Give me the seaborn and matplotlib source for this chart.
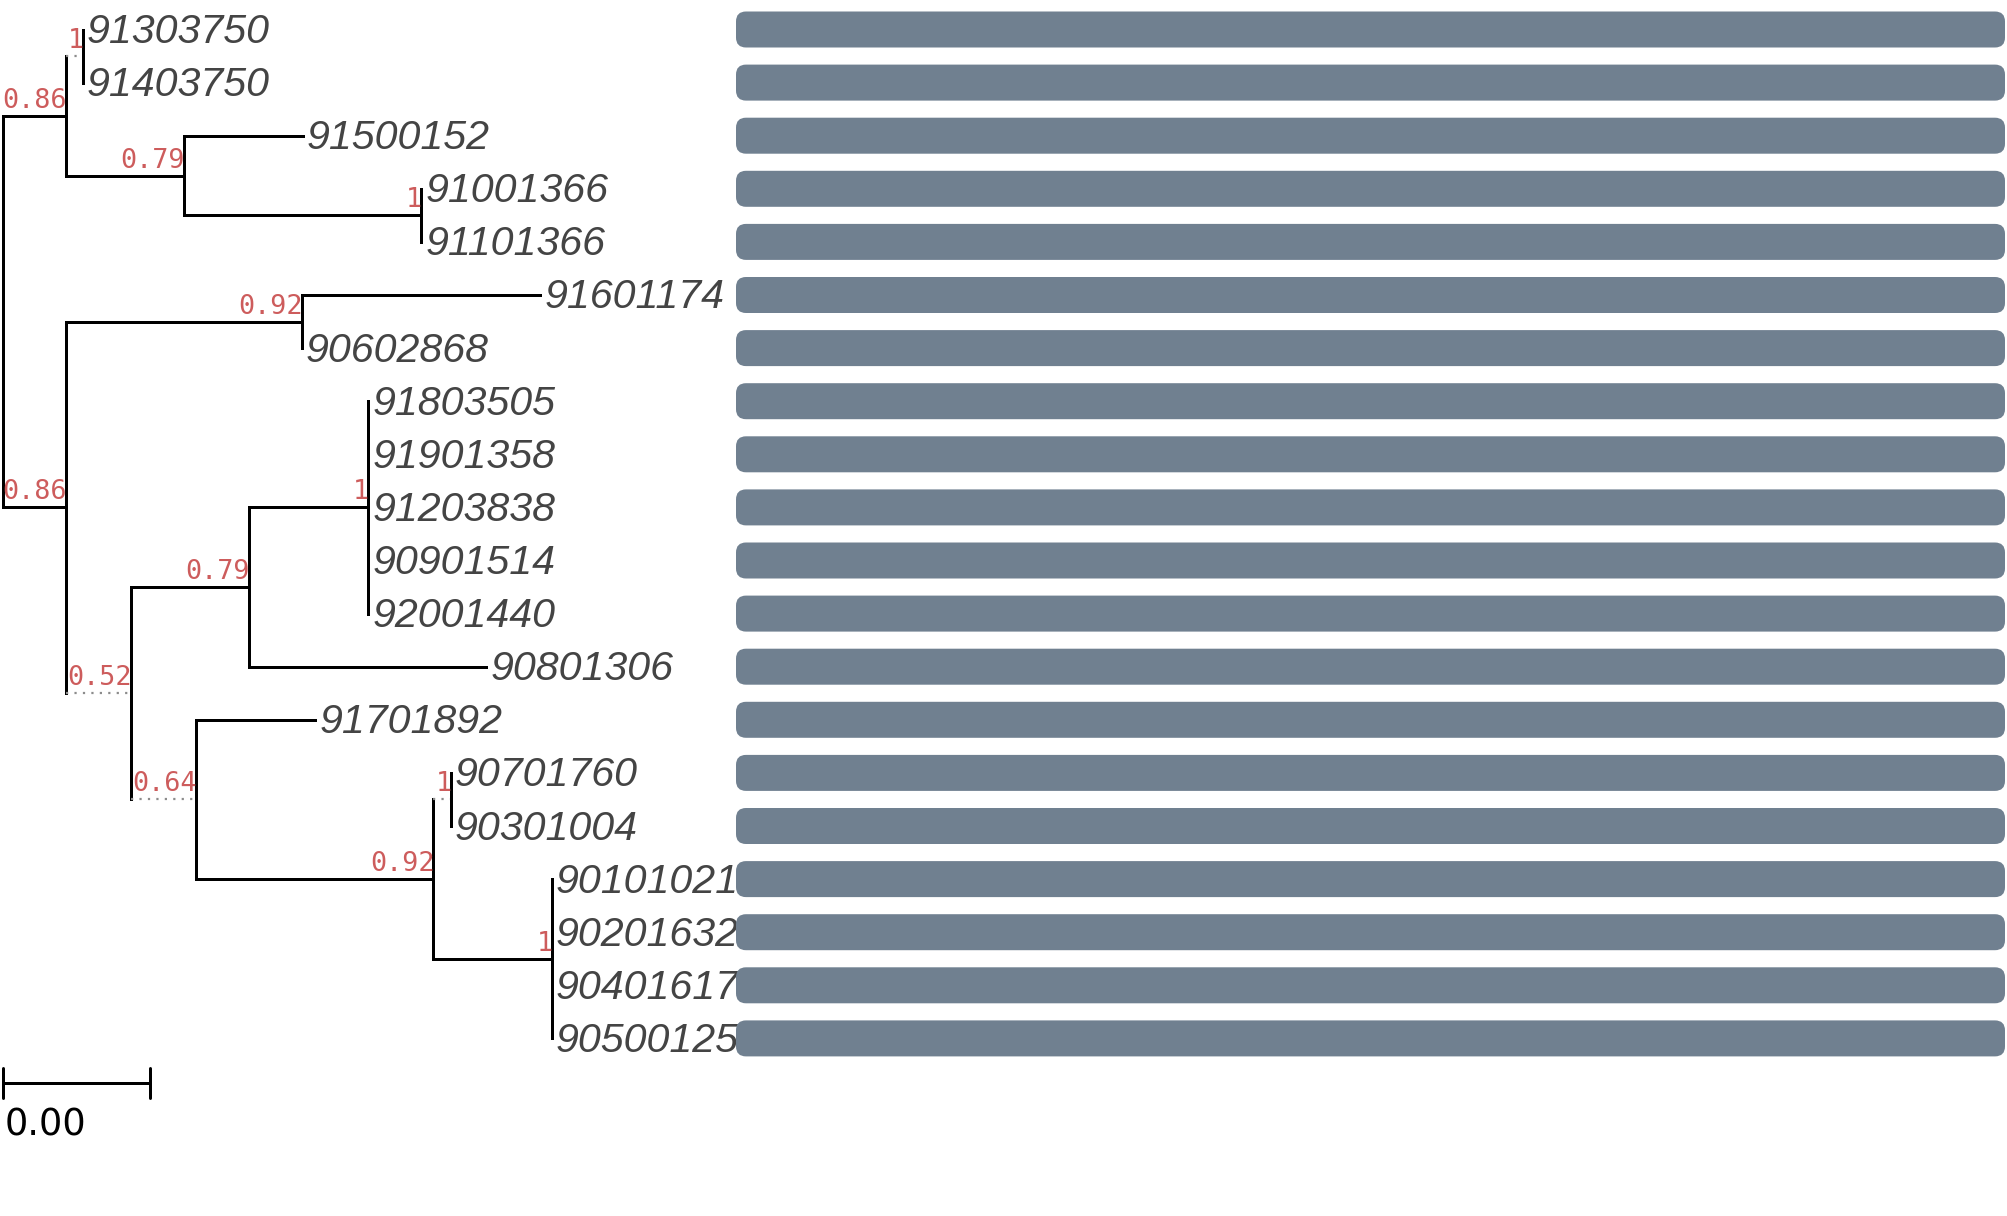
import matplotlib
matplotlib.use("Agg")
import matplotlib.pyplot as plt
import matplotlib.transforms as mtransforms
from matplotlib.patches import FancyBboxPatch
import seaborn as sns

# Tree data (branch lengths, scale bar = 0.003)
node_ids = ["root", "A", "P", "C", "Q", "B", "D", "E", "F", "R", "G", "H", "S", "T"]
node_parent = [None, "root", "A", "A", "C", "root", "B", "B", "E", "F", "E", "G", "H", "H"]
node_len = [0, 0.00129, 0.00035, 0.00241, 0.00484, 0.00129, 0.00482,
            0.00133, 0.00241, 0.00243, 0.00133, 0.00484, 0.00035, 0.00241]
node_support = [None, 0.86, 1, 0.79, 1, 0.86, 0.92, 0.52, 0.79, 1, 0.64, 0.92, 1, 1]
node_dotted = [False, False, True, False, False, False, False,
               True, False, False, True, False, True, False]

leaf_names = ["91303750", "91403750", "91500152", "91001366", "91101366",
              "91601174", "90602868", "91803505", "91901358", "91203838",
              "90901514", "92001440", "90801306", "91701892", "90701760",
              "90301004", "90101021", "90201632", "90401617", "90500125"]
leaf_parent = ["P", "P", "C", "Q", "Q", "D", "D", "R", "R", "R", "R", "R",
               "F", "G", "S", "S", "T", "T", "T", "T"]
leaf_len = [0, 0, 0.00243, 0, 0, 0.00486, 0, 0, 0, 0, 0, 0,
            0.00484, 0.00243, 0, 0, 0, 0, 0, 0]

bar_values = [1.0] * len(leaf_names)
scale_len = 0.003

sns.set_style("white")
plt.rcParams["font.family"] = ["Liberation Sans", "DejaVu Sans"]

W, H = 2007, 1216
px_per_unit = 49000.0
row_px = 53.1
top_px = 29.5
root_px = 2.7

fig = plt.figure(figsize=(W / 100, H / 100), dpi=100)
ax = fig.add_axes([0, 0, 1, 1])
ax.set_xlim(-root_px / px_per_unit, (W - root_px) / px_per_unit)
ax.set_ylim((H - top_px) / row_px, -top_px / row_px)
ax.axis("off")

# positions
par = dict(zip(node_ids, node_parent))
blen = dict(zip(node_ids, node_len))
xpos = {}
for n in node_ids:
    xpos[n] = blen[n] + (xpos[par[n]] if par[n] else 0)

children = {n: [] for n in node_ids}
for n in node_ids:
    if par[n]:
        children[par[n]].append(("node", n))
for i, p in enumerate(leaf_parent):
    children[p].append(("leaf", i))

ypos = {}
def get_y(kind, key):
    if kind == "leaf":
        return float(key)
    if key not in ypos:
        ys = [get_y(k, c) for k, c in children[key]]
        ypos[key] = (min(ys) + max(ys)) / 2
    return ypos[key]

for n in node_ids:
    get_y("node", n)

lw = 2.16
solid = dict(color="black", lw=lw, solid_capstyle="projecting")
dotted = dict(color="#8c8c8c", lw=1.6, linestyle=(0, (1, 2.8)))

for n in node_ids:
    ys = [get_y(k, c) for k, c in children[n]]
    ax.plot([xpos[n], xpos[n]], [min(ys), max(ys)], **solid)
    for k, c in children[n]:
        if k == "node":
            cx, cy = xpos[c], ypos[c]
            style = dotted if node_dotted[node_ids.index(c)] else solid
        else:
            cx, cy = xpos[n] + leaf_len[c], float(c)
            style = solid
        if cx > xpos[n]:
            ax.plot([xpos[n], cx], [cy, cy], **style)

# support values
sup_tr = mtransforms.offset_copy(ax.transData, fig=fig, x=1, y=8, units="dots")
for n, s in zip(node_ids, node_support):
    if s is None:
        continue
    ax.text(xpos[n], ypos[n], f"{s:g}", transform=sup_tr, ha="right", va="baseline",
            color="#cd5c5c", fontsize=19.3, family="DejaVu Sans Mono")

# leaf labels
lab_tr = mtransforms.offset_copy(ax.transData, fig=fig, x=4, y=-13.5, units="dots")
for i, name in enumerate(leaf_names):
    lx = xpos[leaf_parent[i]] + leaf_len[i]
    ax.text(lx, i, name, transform=lab_tr, ha="left", va="baseline",
            color="#444444", fontsize=29.6, style="italic")

# scale bar
sy = len(leaf_names) - 1 + 0.84
ax.plot([0, scale_len], [sy, sy], color="black", lw=lw)
for sx in [0, scale_len]:
    ax.plot([sx, sx], [sy - 0.29, sy + 0.29], color="black", lw=lw)
txt_tr = mtransforms.offset_copy(ax.transData, fig=fig, x=2, y=-23, units="dots")
ax.text(0, sy, f"{scale_len:.2f}", transform=txt_tr, ha="left", va="top",
        color="black", fontsize=26.5, family="DejaVu Sans")

# bars panel
bar_left, bar_right = 736, 2005
ax2 = fig.add_axes([bar_left / W, 0, (bar_right - bar_left) / W, 1])
bar_h = 36 / row_px
sns.barplot(x=bar_values, y=leaf_names, orient="h", color="slategray",
            saturation=1, width=bar_h, ax=ax2)
ax2.set_xlim(0, 1)
ax2.set_ylim(ax.get_ylim())
ax2.axis("off")

aspect = (bar_right - bar_left) / row_px
r = 10 / (bar_right - bar_left)
for p in list(ax2.patches):
    x0, y0, w, h = p.get_x(), p.get_y(), p.get_width(), p.get_height()
    p.remove()
    ax2.add_patch(FancyBboxPatch((x0, y0), w, h,
                                 boxstyle=f"round,pad=0,rounding_size={r}",
                                 mutation_aspect=aspect, fc="slategray", ec="none"))

fig.savefig("out.png", dpi=100)
